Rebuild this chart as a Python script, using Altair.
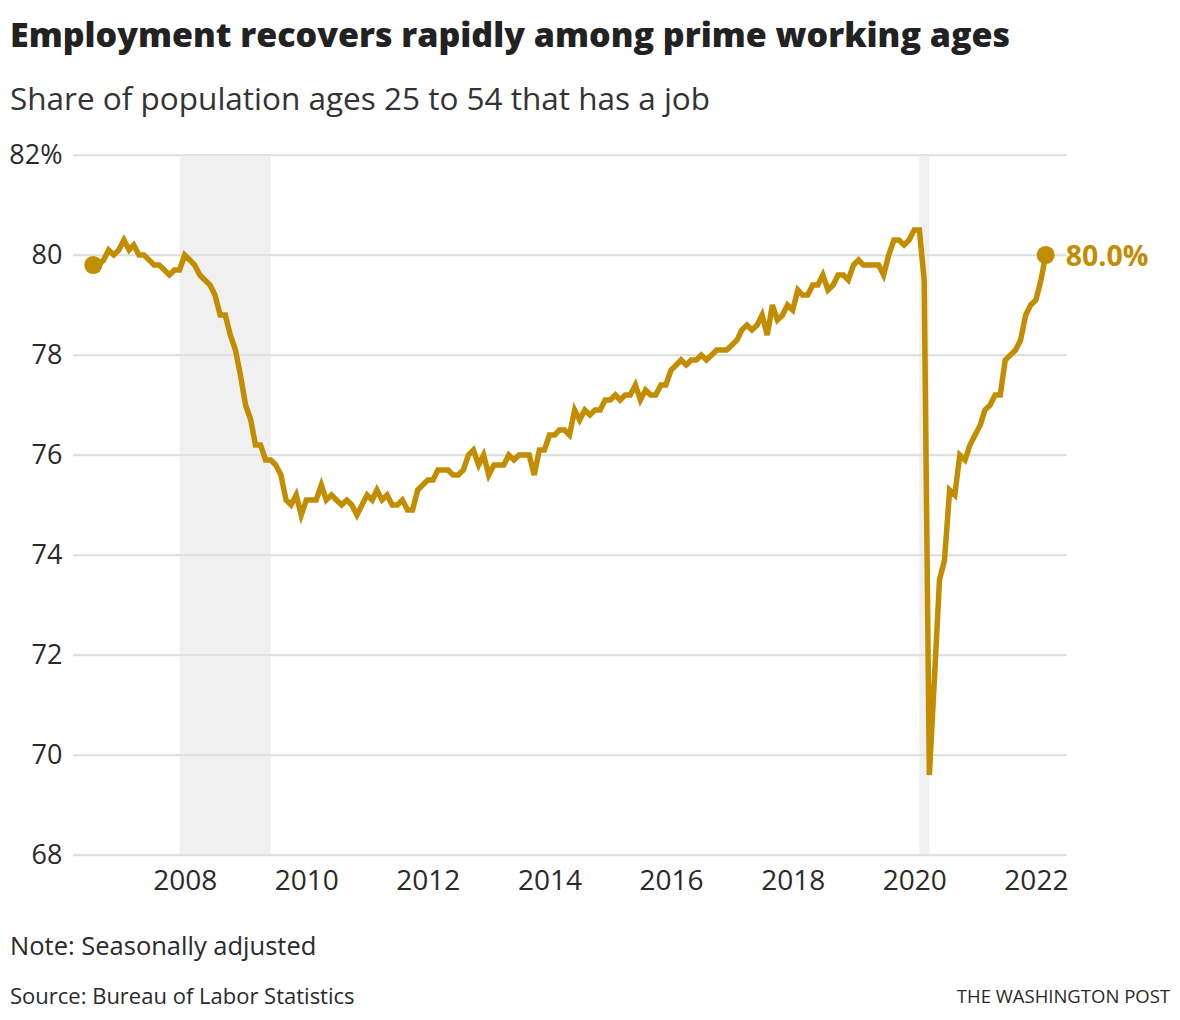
import altair as alt
import pandas as pd

# Monthly share of population ages 25-54 employed (%), Jul 2006 - Mar 2022
y2006 = [79.8, 79.8, 79.9, 80.1, 80.0, 80.1]  # Jul-Dec
y2007 = [80.3, 80.1, 80.2, 80.0, 80.0, 79.9, 79.8, 79.8, 79.7, 79.6, 79.7, 79.7]
y2008 = [80.0, 79.9, 79.8, 79.6, 79.5, 79.4, 79.2, 78.8, 78.8, 78.4, 78.1, 77.6]
y2009 = [77.0, 76.7, 76.2, 76.2, 75.9, 75.9, 75.8, 75.6, 75.1, 75.0, 75.2, 74.8]
y2010 = [75.1, 75.1, 75.1, 75.4, 75.1, 75.2, 75.1, 75.0, 75.1, 75.0, 74.8, 75.0]
y2011 = [75.2, 75.1, 75.3, 75.1, 75.2, 75.0, 75.0, 75.1, 74.9, 74.9, 75.3, 75.4]
y2012 = [75.5, 75.5, 75.7, 75.7, 75.7, 75.6, 75.6, 75.7, 76.0, 76.1, 75.8, 76.0]
y2013 = [75.6, 75.8, 75.8, 75.8, 76.0, 75.9, 76.0, 76.0, 76.0, 75.6, 76.1, 76.1]
y2014 = [76.4, 76.4, 76.5, 76.5, 76.4, 76.9, 76.7, 76.9, 76.8, 76.9, 76.9, 77.1]
y2015 = [77.1, 77.2, 77.1, 77.2, 77.2, 77.4, 77.1, 77.3, 77.2, 77.2, 77.4, 77.4]
y2016 = [77.7, 77.8, 77.9, 77.8, 77.9, 77.9, 78.0, 77.9, 78.0, 78.1, 78.1, 78.1]
y2017 = [78.2, 78.3, 78.5, 78.6, 78.5, 78.6, 78.8, 78.4, 79.0, 78.7, 78.8, 79.0]
y2018 = [78.9, 79.3, 79.2, 79.2, 79.4, 79.4, 79.6, 79.3, 79.4, 79.6, 79.6, 79.5]
y2019 = [79.8, 79.9, 79.8, 79.8, 79.8, 79.8, 79.6, 80.0, 80.3, 80.3, 80.2, 80.3]
y2020 = [80.5, 80.5, 79.5, 69.6, 71.5, 73.5, 73.9, 75.3, 75.2, 76.0, 75.9, 76.2]
y2021 = [76.4, 76.6, 76.9, 77.0, 77.2, 77.2, 77.9, 78.0, 78.1, 78.3, 78.8, 79.0]
y2022 = [79.1, 79.5, 80.0]  # Jan-Mar

values = (y2006 + y2007 + y2008 + y2009 + y2010 + y2011 + y2012 + y2013 +
          y2014 + y2015 + y2016 + y2017 + y2018 + y2019 + y2020 + y2021 + y2022)
dates = pd.date_range("2006-07-01", periods=len(values), freq="MS")

recession_start = ["2007-12-01", "2020-02-01"]
recession_end = ["2009-06-01", "2020-04-01"]

y_ticks = [68, 70, 72, 74, 76, 78, 80, 82]
x_tick_years = [2008, 2010, 2012, 2014, 2016, 2018, 2020, 2022]

footer_lines = ["Note: Seasonally adjusted", "Source: Bureau of Labor Statistics"]
credit = "THE WASHINGTON POST"

df = pd.DataFrame({"date": dates, "value": values})
rec = pd.DataFrame({"start": pd.to_datetime(recession_start), "end": pd.to_datetime(recession_end)})
ends = df.iloc[[0, -1]].reset_index(drop=True)
last = df.iloc[[-1]].reset_index(drop=True)

W, H = 993, 700
GOLD = "#c28d00"
FONT = "Open Sans"
TXT = "#2a2a2a"

xscale = alt.Scale(domain=[alt.DateTime(year=2006, month=3, date=1),
                           alt.DateTime(year=2022, month=7, date=1)])
yscale = alt.Scale(domain=[68, 82], nice=False, zero=False)

x_axis = alt.Axis(
    values=[alt.DateTime(year=yr, month=1, date=1) for yr in x_tick_years],
    format="%Y", grid=False, domain=False, ticks=False,
    labelFontSize=28, labelFont=FONT, labelColor=TXT, labelPadding=12, title=None,
)
y_axis = alt.Axis(
    values=y_ticks, grid=True, gridColor="#dddddd", gridWidth=1.5,
    domain=False, ticks=False, labelFontSize=27, labelFont=FONT, labelColor=TXT,
    labelPadding=11, title=None,
    labelExpr="datum.value == 82 ? '82%' : datum.label",
)

shade = alt.Chart(rec).mark_rect(color="#f0f0f0").encode(
    x=alt.X("start:T", scale=xscale, axis=x_axis),
    x2="end:T",
)

grid = alt.Chart(pd.DataFrame({"v": y_ticks})).mark_rule(color="#dddddd", strokeWidth=1.5).encode(
    y=alt.Y("v:Q", scale=yscale, axis=y_axis),
)

line = alt.Chart(df).mark_line(color=GOLD, strokeWidth=5.5, strokeJoin="miter").encode(
    x=alt.X("date:T", scale=xscale, axis=x_axis),
    y=alt.Y("value:Q", scale=yscale, axis=y_axis),
)

dots = alt.Chart(ends).mark_circle(color=GOLD, opacity=1, size=330).encode(
    x=alt.X("date:T", scale=xscale),
    y=alt.Y("value:Q", scale=yscale),
)

label = alt.Chart(last).transform_calculate(
    lab="format(datum.value, '.1f') + '%'"
).mark_text(
    align="left", baseline="middle", dx=20, dy=2, fontSize=28.5, fontWeight="bold",
    font=FONT, color=GOLD,
).encode(
    x=alt.X("date:T", scale=xscale),
    y=alt.Y("value:Q", scale=yscale),
    text="lab:N",
)

note = alt.Chart(pd.DataFrame({"t": [footer_lines[0]]})).mark_text(
    align="left", baseline="middle", fontSize=25.5, font=FONT, color=TXT,
).encode(x=alt.value(-63), y=alt.value(H + 92), text="t:N")

source = alt.Chart(pd.DataFrame({"t": [footer_lines[1]]})).mark_text(
    align="left", baseline="middle", fontSize=22, font=FONT, color=TXT,
).encode(x=alt.value(-63), y=alt.value(H + 142), text="t:N")

wapo = alt.Chart(pd.DataFrame({"t": [credit]})).mark_text(
    align="right", baseline="middle", fontSize=18.5, font=FONT, color=TXT,
).encode(x=alt.value(W + 104), y=alt.value(H + 142), text="t:N")

chart = alt.layer(shade, grid, line, dots, label, note, source, wapo).properties(
    width=W, height=H,
    autosize=alt.AutoSizeParams(type="none"),
    padding={"left": 65, "top": 147, "right": 106, "bottom": 157},
    title=alt.TitleParams(
        text="Employment recovers rapidly among prime working ages",
        subtitle="Share of population ages 25 to 54 that has a job",
        anchor="start", frame="group", dx=-63,
        font=FONT, fontSize=34, fontWeight=800, color="#222222",
        subtitleFont=FONT, subtitleFontSize=31.5, subtitleFontWeight=400,
        subtitleColor="#333333", subtitlePadding=31, offset=25,
    ),
).configure(background="white", view=alt.ViewConfig(strokeWidth=0, stroke="transparent"))

chart.save("out.html", embed_options={"renderer": "svg", "actions": False})
